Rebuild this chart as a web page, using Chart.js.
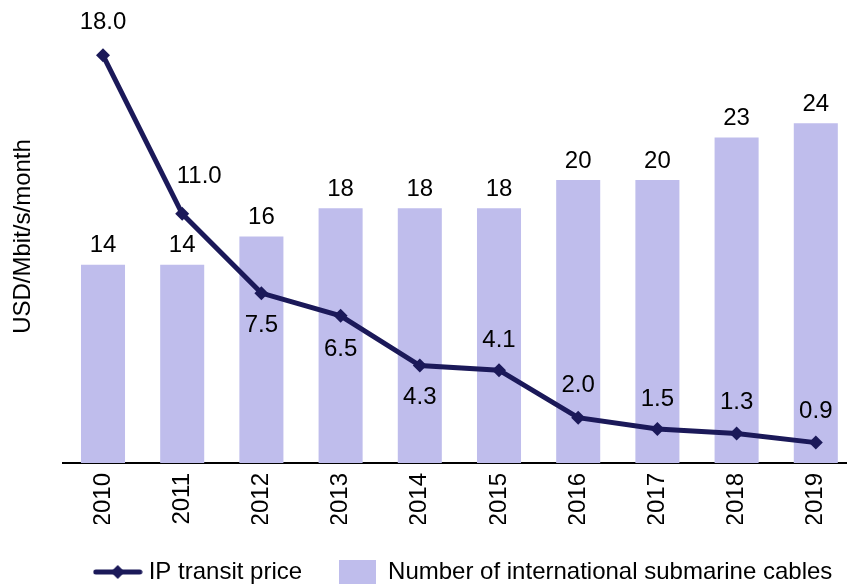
<!DOCTYPE html>
<html>
<head>
<meta charset="utf-8">
<script src="https://cdn.jsdelivr.net/npm/chart.js@4/dist/chart.umd.min.js"></script>
<style>
  html, body { margin: 0; padding: 0; background: #fff; overflow: hidden; }
  #wrap { width: 931px; height: 594px; }
</style>
</head>
<body>
<div id="wrap"><canvas id="chart" width="931" height="594"></canvas></div>
<script>
const years = ['2010', '2011', '2012', '2013', '2014', '2015', '2016', '2017', '2018', '2019'];
const cables = [14, 14, 16, 18, 18, 18, 20, 20, 23, 24];
const prices = [18.0, 11.0, 7.5, 6.5, 4.3, 4.1, 2.0, 1.5, 1.3, 0.9];

const FONT = '"Liberation Sans", Arial, sans-serif';
const NAVY = '#1b1959';
const LILAC = '#bfbdec';

// where each price label sits relative to its point
const priceShift = [[0, -33], [17, -37], [0, 32], [0, 34], [0, 32], [0, -30], [0, -32], [0, -30], [0, -31], [0, -31]];

// legend symbols
const lineIcon = document.createElement('canvas');
lineIcon.width = 50; lineIcon.height = 16;
(() => {
    const c = lineIcon.getContext('2d');
    c.strokeStyle = NAVY; c.lineWidth = 5; c.lineCap = 'round';
    c.beginPath(); c.moveTo(3, 8); c.lineTo(47, 8); c.stroke();
    c.fillStyle = NAVY;
    c.beginPath(); c.moveTo(25, 1); c.lineTo(32, 8); c.lineTo(25, 15); c.lineTo(18, 8); c.closePath(); c.fill();
})();
const boxIcon = document.createElement('canvas');
boxIcon.width = 37; boxIcon.height = 25;
(() => {
    const c = boxIcon.getContext('2d');
    c.fillStyle = LILAC; c.fillRect(0, 0, 37, 25);
})();

const valueLabels = {
    id: 'valueLabels',
    afterDatasetsDraw(chart) {
        const ctx = chart.ctx;
        ctx.save();
        ctx.font = '24px ' + FONT;
        ctx.fillStyle = '#000';
        ctx.textAlign = 'center';
        ctx.textBaseline = 'middle';
        chart.getDatasetMeta(1).data.forEach((bar, i) => {
            ctx.fillText(String(cables[i]), bar.x, bar.y - 19);
        });
        chart.getDatasetMeta(0).data.forEach((pt, i) => {
            const [dx, dy] = priceShift[i];
            ctx.fillText(prices[i].toFixed(1), pt.x + dx, pt.y + dy);
        });
        ctx.restore();
    }
};

new Chart(document.getElementById('chart').getContext('2d'), {
    type: 'bar',
    data: {
        labels: years,
        datasets: [{
            type: 'line',
            label: 'IP transit price',
            data: prices,
            yAxisID: 'y',
            order: 0,
            borderColor: NAVY,
            backgroundColor: NAVY,
            borderWidth: 5,
            pointStyle: 'rectRot',
            pointRadius: 7,
            pointBackgroundColor: NAVY,
            pointBorderWidth: 0,
            tension: 0
        }, {
            label: 'Number of international submarine cables',
            data: cables,
            yAxisID: 'y1',
            order: 1,
            backgroundColor: LILAC,
            categoryPercentage: 1,
            barPercentage: 0.556
        }]
    },
    options: {
        responsive: false,
        animation: false,
        devicePixelRatio: 1,
        layout: { padding: { top: 10, left: 0, right: 0, bottom: 0 } },
        scales: {
            x: {
                grid: { display: false, drawTicks: false },
                border: { display: true, color: '#000', width: 2 },
                ticks: { color: '#000', font: { size: 24, family: FONT }, minRotation: 90, maxRotation: 90, padding: 10, autoSkip: false },
                afterFit(s) { s.height = 61; }
            },
            y: {
                position: 'left', min: 0, max: 20,
                ticks: { display: false },
                grid: { display: false, drawTicks: false },
                border: { display: false },
                title: { display: true, text: 'USD/Mbit/s/month', color: '#000', font: { size: 24, family: FONT }, padding: { top: 9, bottom: 0 } },
                afterFit(s) { s.width = 63.4; }
            },
            y1: {
                position: 'right', min: 0, max: 32,
                ticks: { display: false },
                grid: { display: false, drawTicks: false },
                border: { display: false },
                afterFit(s) { s.width = 75.6; }
            }
        },
        plugins: {
            tooltip: { enabled: false },
            legend: {
                position: 'bottom',
                labels: {
                    usePointStyle: true,
                    pointStyleWidth: 38,
                    padding: 36,
                    color: '#000',
                    font: { size: 24, family: FONT },
                    generateLabels: () => [
                        { text: 'IP transit price', pointStyle: lineIcon, rotation: 0, datasetIndex: 0, hidden: false, lineWidth: 0, fontColor: '#000' },
                        { text: 'Number of international submarine cables', pointStyle: boxIcon, rotation: 0, datasetIndex: 1, hidden: false, lineWidth: 0, fontColor: '#000' }
                    ]
                }
            }
        }
    },
    plugins: [valueLabels]
});
</script>
</body>
</html>
